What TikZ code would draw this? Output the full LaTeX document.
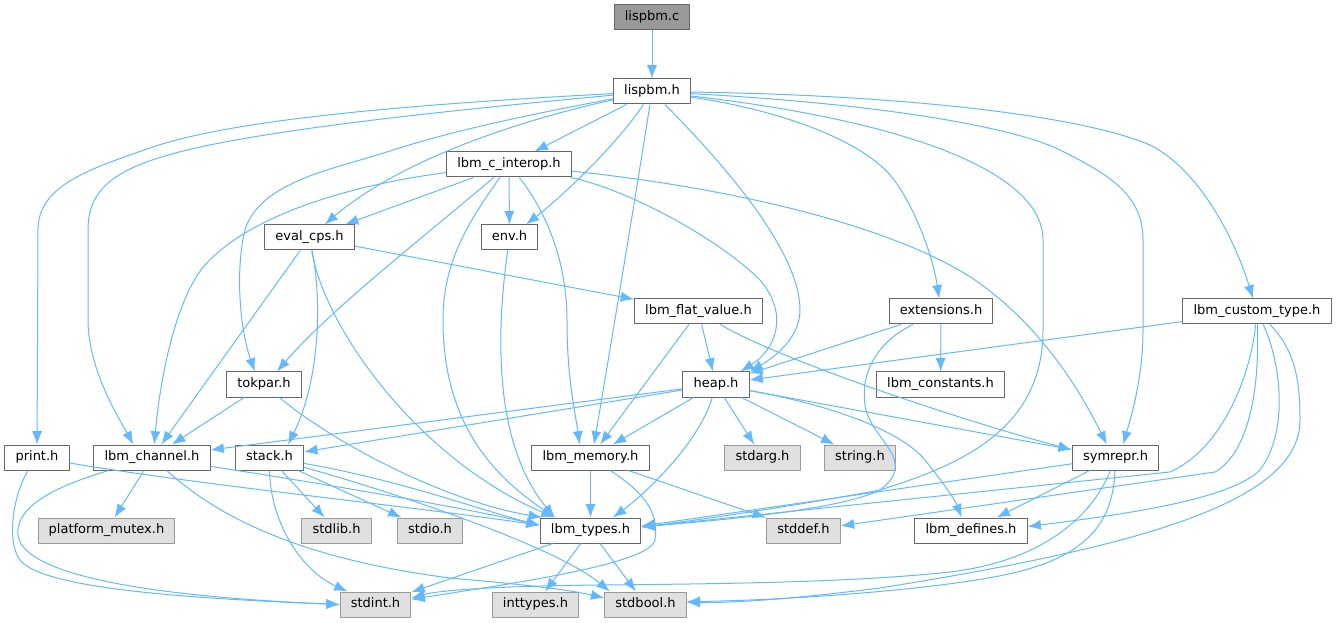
\documentclass[tikz,border=0pt]{standalone}
\usepackage{fontspec}
\setmainfont{DejaVu Sans}
\usetikzlibrary{arrows.meta}
\definecolor{edgecol}{HTML}{63B8FF}
\definecolor{boxcol}{HTML}{666666}
\definecolor{syscol}{HTML}{999999}
\definecolor{sysfill}{HTML}{E0E0E0}
\definecolor{mainfill}{HTML}{999999}
\begin{document}
\begin{tikzpicture}[x=0.75pt,y=-0.75pt,>={Latex[length=10pt,width=7.6pt]},line join=bevel,
  hdr/.style={draw=boxcol,fill=white,rectangle,line width=0.75pt,inner xsep=8pt,inner ysep=0pt,
    minimum height=18.75pt,text height=7.3pt,text depth=2.1pt,font=\fontsize{9.75}{11}\selectfont},
  syshdr/.style={hdr,draw=syscol,fill=sysfill},
  mainhdr/.style={hdr,fill=mainfill},
  dep/.style={->,draw=edgecol,line width=0.75pt}]
\useasboundingbox (0,0) rectangle (1338,623);
%%
  \node (lispbmc) at (652,17.5) [mainhdr] {lispbm.c};
  \node (lispbmh) at (652,91.5) [hdr] {lispbm.h};
  \node (interop) at (509,164.5) [hdr] {lbm\_c\_interop.h};
  \node (evalcps) at (309.5,237.5) [hdr] {eval\_cps.h};
  \node (env) at (509.5,237.5) [hdr] {env.h};
  \node (flatval) at (698.5,311.5) [hdr] {lbm\_flat\_value.h};
  \node (ext) at (941,311.5) [hdr] {extensions.h};
  \node (ctype) at (1257,311.5) [hdr] {lbm\_custom\_type.h};
  \node (tokpar) at (264,384.5) [hdr] {tokpar.h};
  \node (heap) at (716,384.5) [hdr] {heap.h};
  \node (consts) at (940.5,384.5) [hdr] {lbm\_constants.h};
  \node (print) at (37,457.5) [hdr] {print.h};
  \node (chan) at (152,457.5) [hdr] {lbm\_channel.h};
  \node (stack) at (269.5,457.5) [hdr] {stack.h};
  \node (mem) at (590.5,457.5) [hdr] {lbm\_memory.h};
  \node (stdarg) at (762.5,457.5) [syshdr] {stdarg.h};
  \node (string) at (860,457.5) [syshdr] {string.h};
  \node (symrepr) at (1115.5,457.5) [hdr] {symrepr.h};
  \node (mutex) at (106.5,530.5) [syshdr] {platform\_mutex.h};
  \node (stdlib) at (336.5,530.5) [syshdr] {stdlib.h};
  \node (stdio) at (430,530.5) [syshdr] {stdio.h};
  \node (types) at (590.5,530.5) [hdr] {lbm\_types.h};
  \node (stddef) at (803.5,530.5) [syshdr] {stddef.h};
  \node (defines) at (971,530.5) [hdr] {lbm\_defines.h};
  \node (stdint) at (375.5,604.5) [syshdr] {stdint.h};
  \node (inttypes) at (535.5,604.5) [syshdr] {inttypes.h};
  \node (stdbool) at (645.5,604.5) [syshdr] {stdbool.h};
%%
  \draw [dep] (lispbmc) -- (lispbmh);
  \draw [dep] (lispbmh) -- (interop);
  \draw [dep] (lispbmh) .. controls (520,120) and (400,160) .. (evalcps);
  \draw [dep] (lispbmh) .. controls (620,140) and (570,190) .. (env);
  \draw [dep] (lispbmh) .. controls (400,105) and (230,120) .. (150,148) .. controls (90,169) and (38,185) .. (38,230) -- (print);
  \draw [dep] (lispbmh) .. controls (400,115) and (280,130) .. (200,147) .. controls (120,165) and (88,185) .. (88,230) -- (88,320) .. controls (88,370) and (120,420) .. (chan.145);
  \draw [dep] (lispbmh) .. controls (500,120) and (440,135) .. (393,150) .. controls (340,168) and (260,180) .. (245,230) .. controls (235,270) and (240,330) .. (tokpar.125);
  \draw [dep] (lispbmh) .. controls (635,200) and (610,350) .. (mem.75);
  \draw [dep] (lispbmh) .. controls (720,160) and (800,250) .. (800,310) .. controls (800,340) and (770,360) .. (heap.21);
  \draw [dep] (lispbmh) .. controls (780,110) and (860,140) .. (890,175) .. controls (910,198) and (932,250) .. (ext);
  \draw [dep] (lispbmh) .. controls (900,95) and (1080,115) .. (1150,145) .. controls (1200,170) and (1235,240) .. (ctype);
  \draw [dep] (lispbmh) .. controls (900,105) and (1020,130) .. (1060,150) .. controls (1110,175) and (1143,195) .. (1143,240) -- (1143,330) .. controls (1143,380) and (1130,420) .. (symrepr.59);
  \draw [dep] (lispbmh) .. controls (900,120) and (1043,170) .. (1043,240) -- (1043,330) .. controls (1043,430) and (960,465) .. (880,490) .. controls (800,505) and (700,520) .. (types.4);
%
  \draw [dep] (interop) -- (evalcps);
  \draw [dep] (interop) -- (env);
  \draw [dep] (interop) .. controls (350,185) and (250,215) .. (205,265) .. controls (175,300) and (160,380) .. (chan.80);
  \draw [dep] (interop) .. controls (420,240) and (330,310) .. (tokpar.45);
  \draw [dep] (interop) .. controls (470,220) and (443,260) .. (443,320) .. controls (443,430) and (500,480) .. (types.160);
  \draw [dep] (interop) .. controls (545,210) and (567,260) .. (567,320) .. controls (567,380) and (575,410) .. (mem.130);
  \draw [dep] (interop) .. controls (630,190) and (720,240) .. (760,280) .. controls (790,315) and (775,350) .. (heap.28);
  \draw [dep] (interop) .. controls (750,190) and (900,230) .. (975,280) .. controls (1040,325) and (1080,390) .. (symrepr.124);
%
  \draw [dep] (evalcps) -- (chan);
  \draw [dep] (evalcps) .. controls (322,300) and (320,380) .. (stack.35);
  \draw [dep] (evalcps) .. controls (325,330) and (420,460) .. (types.160);
  \draw [dep] (evalcps) -- (flatval);
  \draw [dep] (env) .. controls (498,320) and (490,440) .. (types.160);
%
  \draw [dep] (flatval) -- (heap);
  \draw [dep] (flatval) -- (mem);
  \draw [dep] (flatval) .. controls (780,360) and (960,420) .. (symrepr.170);
  \draw [dep] (ext) -- (heap);
  \draw [dep] (ext) -- (consts);
  \draw [dep] (ext) .. controls (880,340) and (860,370) .. (865,405) .. controls (870,440) and (920,460) .. (880,490) .. controls (840,510) and (720,520) .. (types.4);
  \draw [dep] (ctype) -- (heap);
  \draw [dep] (ctype) .. controls (1250,380) and (1220,450) .. (1170,472) -- (types.4);
  \draw [dep] (ctype) .. controls (1260,400) and (1245,455) .. (1215,472) -- (stddef.7);
  \draw [dep] (ctype) .. controls (1280,360) and (1290,430) .. (1260,470) .. controls (1230,500) and (1120,515) .. (defines.4);
  \draw [dep] (ctype) .. controls (1295,350) and (1300,380) .. (1300,420) .. controls (1300,500) and (1150,545) .. (880,588) .. controls (800,598) and (740,603) .. (stdbool.3);
%
  \draw [dep] (symrepr) -- (types.5);
  \draw [dep] (symrepr) -- (defines);
  \draw [dep] (symrepr) .. controls (1095,510) and (1050,560) .. (950,572) .. controls (850,583) and (700,584) .. (600,585) .. controls (500,586) and (440,590) .. (stdint.10);
  \draw [dep] (symrepr) .. controls (1113,520) and (1090,555) .. (1013,573) .. controls (950,588) and (800,600) .. (stdbool.4);
%
  \draw [dep] (heap) -- (chan);
  \draw [dep] (heap) -- (stack);
  \draw [dep] (heap) -- (mem);
  \draw [dep] (heap) .. controls (700,440) and (650,490) .. (types.30);
  \draw [dep] (heap) -- (stdarg);
  \draw [dep] (heap) -- (string);
  \draw [dep] (heap) -- (symrepr);
  \draw [dep] (heap) .. controls (830,405) and (900,430) .. (925,460) .. controls (945,485) and (955,500) .. (defines.126);
%
  \draw [dep] (tokpar) -- (chan);
  \draw [dep] (tokpar) .. controls (330,440) and (440,500) .. (types.165);
  \draw [dep] (print) .. controls (200,485) and (400,505) .. (types.174);
  \draw [dep] (print) .. controls (15,490) and (5,540) .. (20,560) .. controls (40,585) and (150,597) .. (stdint.west);
  \draw [dep] (chan) -- (mutex);
  \draw [dep] (chan) .. controls (300,480) and (450,505) .. (types.174);
  \draw [dep] (chan) .. controls (60,485) and (15,505) .. (18,535) .. controls (22,570) and (120,595) .. (stdint.west);
  \draw [dep] (chan) .. controls (200,500) and (270,555) .. (450,578) .. controls (530,585) and (570,590) .. (stdbool.171);
  \draw [dep] (stack) .. controls (400,480) and (480,510) .. (types.174);
  \draw [dep] (stack) -- (stdlib);
  \draw [dep] (stack) -- (stdio);
  \draw [dep] (stack) .. controls (270,520) and (300,570) .. (stdint.155);
  \draw [dep] (stack) .. controls (420,500) and (560,550) .. (stdbool.160);
%
  \draw [dep] (mem) -- (types);
  \draw [dep] (mem) -- (stddef);
  \draw [dep] (mem) .. controls (640,490) and (660,510) .. (655,540) .. controls (650,565) and (500,585) .. (stdint.8);
  \draw [dep] (types) -- (stdint);
  \draw [dep] (types) -- (inttypes);
  \draw [dep] (types) -- (stdbool);
%
\end{tikzpicture}
\end{document}
